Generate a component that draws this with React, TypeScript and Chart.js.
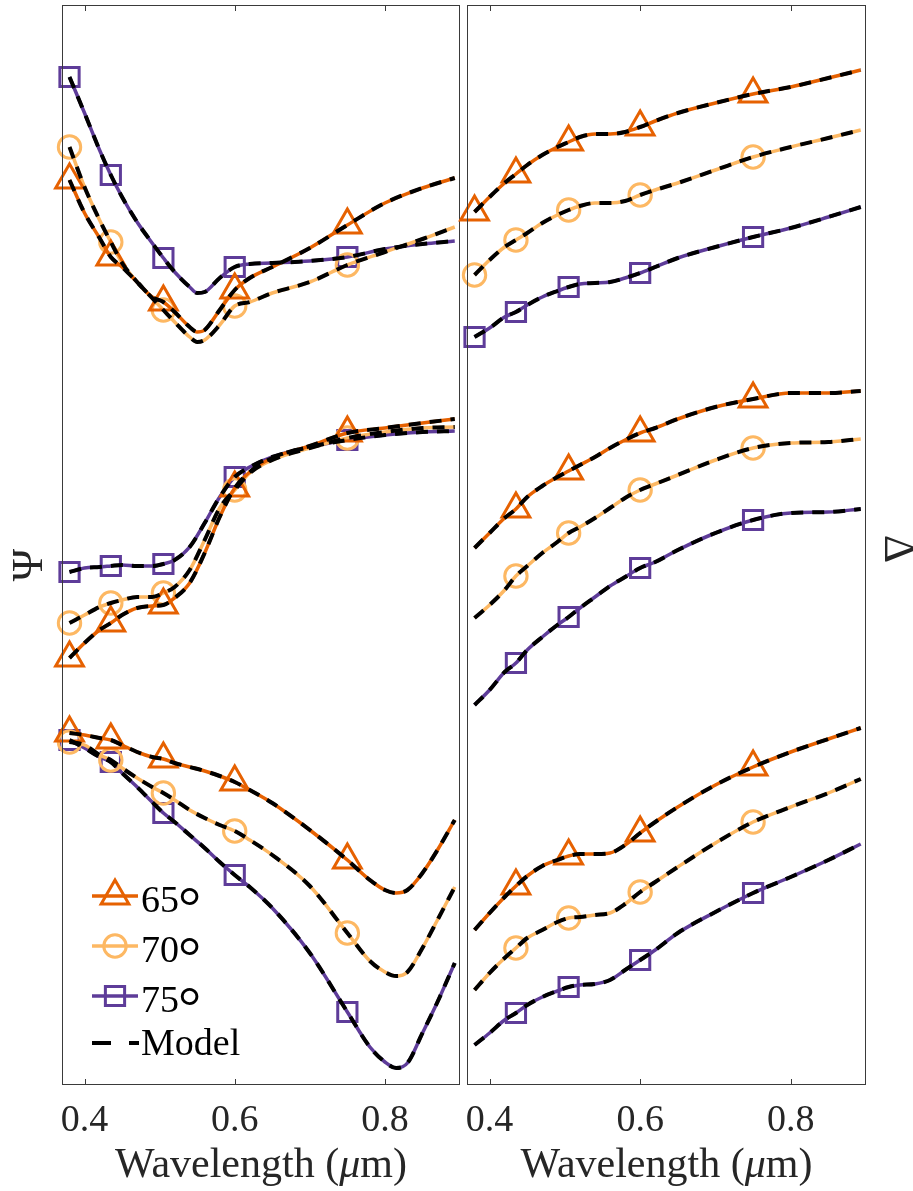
import React, { useEffect, useRef } from 'react';
import { Chart, registerables } from 'chart.js';

Chart.register(...registerables);

const PAGE_W = 913;
const PAGE_H = 1191;

// Shared wavelength axis (µm)
const X_MIN = 0.37;
const X_MAX = 0.9;
const X_TICKS = [0.4, 0.6, 0.8];

// Vertical axis: arbitrary offset units, three stacked blocks per column
const Y_MIN = 0;
const Y_MAX = 107.9;

// Wavelengths where the measured points carry a marker
const MARKER_WL = [0.38, 0.435, 0.505, 0.6, 0.75];
const MARKER_WL_VIS = [0.435, 0.505, 0.6, 0.75];

const ANGLES = [65, 70, 75];
const COLORS = ['#E66101', '#FDB863', '#5E3C99'];
const STYLES = ['triangle', 'circle', 'rect'];
const RADII = [16, 11.2, 13.6];

// ---- Ψ column ----
const PSI_A_WL = [0.38, 0.40, 0.42, 0.435, 0.45, 0.47, 0.49, 0.505, 0.52, 0.54, 0.55, 0.56, 0.58, 0.60, 0.62, 0.65, 0.70, 0.75, 0.80, 0.85, 0.893];
const PSI_A_65 = [90.4, 87.1, 84.6, 82.7, 81.7, 80.2, 78.7, 78.2, 77.2, 75.7, 75.2, 75.4, 77.4, 79.4, 80.6, 81.7, 83.6, 85.9, 88.1, 89.6, 90.6];
const PSI_A_70 = [93.7, 89.7, 86.4, 84.2, 82.1, 80.2, 78.6, 77.4, 76.2, 74.7, 74.2, 74.4, 75.9, 77.8, 78.2, 79.1, 80.2, 81.9, 83.2, 84.5, 85.7];
const PSI_A_75 = [100.7, 97.1, 93.4, 90.9, 88.7, 86.2, 84.1, 82.6, 81.2, 79.7, 79.1, 79.2, 80.6, 81.7, 82.0, 82.1, 82.3, 82.7, 83.5, 84.0, 84.3];

const PSI_B_WL = [0.38, 0.40, 0.42, 0.435, 0.45, 0.47, 0.49, 0.505, 0.52, 0.54, 0.56, 0.58, 0.60, 0.62, 0.65, 0.70, 0.75, 0.80, 0.85, 0.893];
const PSI_B_65 = [42.6, 44.1, 45.4, 46.1, 46.9, 47.6, 47.8, 47.9, 48.6, 50.1, 53.1, 56.7, 59.6, 61.2, 62.6, 63.8, 65.1, 65.6, 66.1, 66.5];
const PSI_B_70 = [46.1, 46.9, 47.7, 48.1, 48.4, 48.7, 48.7, 49.1, 49.7, 51.4, 54.4, 57.6, 59.4, 61.1, 62.4, 63.6, 64.6, 65.2, 65.6, 65.7];
const PSI_B_75 = [51.2, 51.6, 51.7, 51.8, 51.9, 51.8, 51.8, 52.0, 52.4, 53.7, 56.1, 58.7, 60.7, 61.7, 62.7, 63.7, 64.4, 64.9, 65.2, 65.3];

const PSI_C_WL = [0.38, 0.40, 0.42, 0.435, 0.45, 0.47, 0.49, 0.505, 0.52, 0.54, 0.56, 0.58, 0.60, 0.62, 0.65, 0.70, 0.75, 0.78, 0.80, 0.815, 0.83, 0.85, 0.87, 0.893];
const PSI_C_65 = [35.1, 34.9, 34.6, 34.4, 33.9, 33.2, 32.7, 32.5, 32.1, 31.7, 31.3, 30.8, 30.2, 29.4, 28.1, 25.4, 22.4, 20.4, 19.4, 19.1, 19.4, 21.1, 23.4, 26.4];
const PSI_C_70 = [34.2, 33.9, 32.9, 32.4, 31.6, 30.6, 29.7, 29.1, 28.4, 27.4, 26.6, 25.9, 25.3, 24.4, 22.9, 19.8, 15.1, 12.3, 11.2, 10.8, 11.2, 13.6, 16.4, 19.7];
const PSI_C_75 = [34.4, 33.6, 32.7, 32.2, 31.1, 29.7, 28.2, 27.1, 26.2, 24.9, 23.6, 22.2, 20.9, 19.7, 17.6, 13.1, 7.2, 3.7, 2.2, 1.6, 2.1, 5.1, 8.2, 12.1];

// ---- Δ column ----
const DELTA_WL = [0.38, 0.40, 0.42, 0.435, 0.45, 0.47, 0.49, 0.505, 0.52, 0.54, 0.56, 0.58, 0.60, 0.62, 0.65, 0.70, 0.75, 0.80, 0.85, 0.893];
const DELTA_A_65 = [87.2, 88.7, 90.1, 91.0, 91.9, 92.9, 93.7, 94.2, 94.7, 95.0, 95.0, 95.2, 95.7, 96.3, 97.1, 98.1, 99.0, 99.7, 100.6, 101.4];
const DELTA_A_70 = [80.9, 82.4, 83.7, 84.4, 85.1, 86.1, 86.9, 87.4, 87.8, 88.1, 88.1, 88.3, 88.9, 89.4, 90.1, 91.4, 92.7, 93.7, 94.6, 95.4];
const DELTA_A_75 = [74.7, 75.6, 76.7, 77.2, 77.9, 78.7, 79.3, 79.7, 80.0, 80.1, 80.2, 80.6, 81.1, 81.7, 82.6, 83.7, 84.7, 85.6, 86.7, 87.7];

const DELTA_B_65 = [53.6, 55.1, 56.6, 57.5, 58.7, 59.8, 60.7, 61.3, 61.9, 62.7, 63.6, 64.4, 65.1, 65.6, 66.5, 67.7, 68.5, 69.1, 69.1, 69.3];
const DELTA_B_70 = [46.6, 47.9, 49.4, 50.8, 51.8, 53.1, 54.2, 55.1, 55.7, 56.6, 57.6, 58.6, 59.4, 60.0, 60.9, 62.4, 63.6, 64.1, 64.2, 64.5];
const DELTA_B_75 = [37.9, 39.4, 41.2, 42.1, 43.4, 44.7, 45.9, 46.7, 47.6, 48.7, 49.8, 50.7, 51.6, 52.2, 53.4, 55.1, 56.4, 57.1, 57.2, 57.5];

const DELTA_C_65 = [15.4, 17.1, 18.7, 19.8, 20.8, 21.8, 22.4, 22.8, 23.0, 23.0, 23.1, 23.9, 25.1, 26.2, 27.7, 29.9, 31.7, 33.2, 34.5, 35.6];
const DELTA_C_70 = [9.4, 11.1, 12.6, 13.6, 14.6, 15.4, 16.2, 16.6, 16.7, 16.9, 17.1, 18.0, 19.2, 20.2, 21.7, 24.1, 26.2, 27.7, 29.1, 30.5];
const DELTA_C_75 = [3.9, 5.1, 6.4, 7.1, 7.9, 8.7, 9.3, 9.7, 9.9, 10.0, 10.4, 11.4, 12.4, 13.4, 15.1, 17.2, 19.1, 20.7, 22.4, 24.0];

const SERIF = '"Liberation Serif", "Times New Roman", serif';
const AXIS_TEXT = '#262626';

function hasMarker(markers: number[], x: number) {
  return markers.some((m) => Math.abs(m - x) < 1e-6);
}

function blockDatasets(wl: number[], blocks: number[][], markers: number[]) {
  const out: any[] = [];
  blocks.forEach((vals, k) => {
    const pts = () => wl.map((x, i) => ({ x, y: vals[i] }));
    // measured curve with open markers
    out.push({
      label: `${ANGLES[k]}°`,
      data: pts(),
      borderColor: COLORS[k],
      borderWidth: 3.5,
      pointStyle: STYLES[k],
      pointRadius: (c: any) => (hasMarker(markers, wl[c.dataIndex]) ? RADII[k] : 0),
      pointBorderColor: COLORS[k],
      pointBackgroundColor: 'rgba(0,0,0,0)',
      pointBorderWidth: 3,
      cubicInterpolationMode: 'monotone',
      fill: false,
      clip: false,
      order: 1,
    });
    // fitted model, dashed on top
    out.push({
      label: 'Model',
      data: pts(),
      borderColor: '#000000',
      borderWidth: 4,
      borderDash: [12, 9],
      pointRadius: 0,
      cubicInterpolationMode: 'monotone',
      fill: false,
      order: 0,
    });
  });
  return out;
}

function strokeMarker(ctx: CanvasRenderingContext2D, style: string, x: number, y: number, r: number) {
  ctx.beginPath();
  if (style === 'triangle') {
    for (let k = 0; k < 3; k++) {
      const a = (k * 2 * Math.PI) / 3;
      const px = x + Math.sin(a) * r;
      const py = y - Math.cos(a) * r;
      if (k === 0) ctx.moveTo(px, py);
      else ctx.lineTo(px, py);
    }
    ctx.closePath();
  } else if (style === 'circle') {
    ctx.arc(x, y, r, 0, Math.PI * 2);
  } else {
    const s = r * Math.SQRT1_2;
    ctx.rect(x - s, y - s, 2 * s, 2 * s);
  }
  ctx.stroke();
}

type PanelOpts = {
  yLabel: string;
  yLabelX: number;
  yLabelY: number;
  yLabelRotation: number;
  legend: boolean;
};

function panelPlugin(opts: PanelOpts) {
  return {
    id: 'panelFrame',
    afterDraw(chart: any) {
      const { ctx, chartArea } = chart;
      const xs = chart.scales.x;
      const { left, right, top, bottom } = chartArea;
      ctx.save();

      // Box
      ctx.strokeStyle = '#3a3a3a';
      ctx.lineWidth = 1;
      ctx.setLineDash([]);
      ctx.strokeRect(left + 0.5, top + 0.5, right - left - 1, bottom - top);

      // Inward ticks on top and bottom
      ctx.beginPath();
      X_TICKS.forEach((v) => {
        const px = Math.round(xs.getPixelForValue(v)) + 0.5;
        ctx.moveTo(px, bottom + 0.5);
        ctx.lineTo(px, bottom - 5);
        ctx.moveTo(px, top + 0.5);
        ctx.lineTo(px, top + 6);
      });
      ctx.stroke();

      // Tick labels
      ctx.fillStyle = AXIS_TEXT;
      ctx.font = `38px ${SERIF}`;
      ctx.textAlign = 'center';
      ctx.textBaseline = 'alphabetic';
      X_TICKS.forEach((v) => {
        ctx.fillText(v.toFixed(1), xs.getPixelForValue(v), 1131);
      });

      // Axis title with italic µ
      const p1 = 'Wavelength (';
      const p2 = 'μ';
      const p3 = 'm)';
      const fN = `42px ${SERIF}`;
      const fI = `italic 42px ${SERIF}`;
      ctx.font = fN;
      const w1 = ctx.measureText(p1).width;
      const w3 = ctx.measureText(p3).width;
      ctx.font = fI;
      const w2 = ctx.measureText(p2).width;
      const cx = (left + right) / 2;
      let x0 = cx - (w1 + w2 + w3) / 2;
      ctx.textAlign = 'left';
      ctx.font = fN;
      ctx.fillText(p1, x0, 1177);
      x0 += w1;
      ctx.font = fI;
      ctx.fillText(p2, x0, 1177);
      x0 += w2;
      ctx.font = fN;
      ctx.fillText(p3, x0, 1177);

      // Rotated quantity label
      ctx.save();
      ctx.translate(opts.yLabelX, opts.yLabelY);
      ctx.rotate(opts.yLabelRotation);
      ctx.font = `44px ${SERIF}`;
      ctx.textAlign = 'center';
      ctx.textBaseline = 'alphabetic';
      ctx.fillText(opts.yLabel, 0, 0);
      ctx.restore();

      if (opts.legend) {
        const lx0 = 92;
        const lx1 = 138;
        const rows = [896, 946, 996];
        ctx.lineCap = 'butt';
        rows.forEach((ry, k) => {
          ctx.strokeStyle = COLORS[k];
          ctx.lineWidth = 3.5;
          ctx.setLineDash([]);
          ctx.beginPath();
          ctx.moveTo(lx0, ry);
          ctx.lineTo(lx1, ry);
          ctx.stroke();
          ctx.lineWidth = 3;
          strokeMarker(ctx, STYLES[k], (lx0 + lx1) / 2, ry, RADII[k]);

          ctx.fillStyle = '#000000';
          ctx.textAlign = 'left';
          ctx.font = `38px ${SERIF}`;
          const num = String(ANGLES[k]);
          ctx.fillText(num, 141, ry + 16);
          const wn = ctx.measureText(num).width;
          ctx.font = `58px ${SERIF}`;
          ctx.fillText('°', 141 + wn - 1, ry + 30);
        });
        // Model entry
        const my = 1043;
        ctx.strokeStyle = '#000000';
        ctx.lineWidth = 4;
        ctx.setLineDash([19, 18]);
        ctx.beginPath();
        ctx.moveTo(lx0, my);
        ctx.lineTo(lx0 + 47, my);
        ctx.stroke();
        ctx.setLineDash([]);
        ctx.fillStyle = '#000000';
        ctx.font = `38px ${SERIF}`;
        ctx.fillText('Model', 141, 1055);
      }
      ctx.restore();
    },
  };
}

function makeChart(
  canvas: HTMLCanvasElement,
  datasets: any[],
  padLeft: number,
  padRight: number,
  plugin: any
) {
  return new Chart(canvas, {
    type: 'line',
    data: { datasets },
    options: {
      animation: false,
      responsive: false,
      devicePixelRatio: 1,
      events: [],
      layout: {
        autoPadding: false,
        padding: { left: padLeft, right: padRight, top: 5, bottom: PAGE_H - 1084 },
      },
      scales: {
        x: { type: 'linear', min: X_MIN, max: X_MAX, display: false },
        y: { type: 'linear', min: Y_MIN, max: Y_MAX, display: false },
      },
      plugins: { legend: { display: false }, tooltip: { enabled: false } },
      elements: { line: { borderCapStyle: 'butt' } },
    } as any,
    plugins: [plugin],
  });
}

export default function App() {
  const psiRef = useRef<HTMLCanvasElement | null>(null);
  const deltaRef = useRef<HTMLCanvasElement | null>(null);

  useEffect(() => {
    if (!psiRef.current || !deltaRef.current) return;

    const psiSets = [
      ...blockDatasets(PSI_A_WL, [PSI_A_65, PSI_A_70, PSI_A_75], MARKER_WL),
      ...blockDatasets(PSI_B_WL, [PSI_B_65, PSI_B_70, PSI_B_75], MARKER_WL),
      ...blockDatasets(PSI_C_WL, [PSI_C_65, PSI_C_70, PSI_C_75], MARKER_WL),
    ];
    const deltaSets = [
      ...blockDatasets(DELTA_WL, [DELTA_A_65, DELTA_A_70, DELTA_A_75], MARKER_WL),
      ...blockDatasets(DELTA_WL, [DELTA_B_65, DELTA_B_70, DELTA_B_75], MARKER_WL_VIS),
      ...blockDatasets(DELTA_WL, [DELTA_C_65, DELTA_C_70, DELTA_C_75], MARKER_WL_VIS),
    ];

    const psi = makeChart(
      psiRef.current,
      psiSets,
      62,
      PAGE_W - 460,
      panelPlugin({ yLabel: 'Ψ', yLabelX: 42, yLabelY: 565, yLabelRotation: -Math.PI / 2, legend: true })
    );
    const delta = makeChart(
      deltaRef.current,
      deltaSets,
      467,
      PAGE_W - 866,
      panelPlugin({ yLabel: 'Δ', yLabelX: 885, yLabelY: 549, yLabelRotation: Math.PI / 2, legend: false })
    );
    return () => {
      psi.destroy();
      delta.destroy();
    };
  }, []);

  const canvasStyle: React.CSSProperties = {
    position: 'absolute',
    left: 0,
    top: 0,
    width: PAGE_W,
    height: PAGE_H,
  };

  return (
    <div
      style={{
        position: 'fixed',
        left: 0,
        top: 0,
        width: PAGE_W,
        height: PAGE_H,
        background: '#ffffff',
        overflow: 'hidden',
      }}
    >
      <canvas ref={psiRef} width={PAGE_W} height={PAGE_H} style={canvasStyle} />
      <canvas ref={deltaRef} width={PAGE_W} height={PAGE_H} style={canvasStyle} />
    </div>
  );
}
